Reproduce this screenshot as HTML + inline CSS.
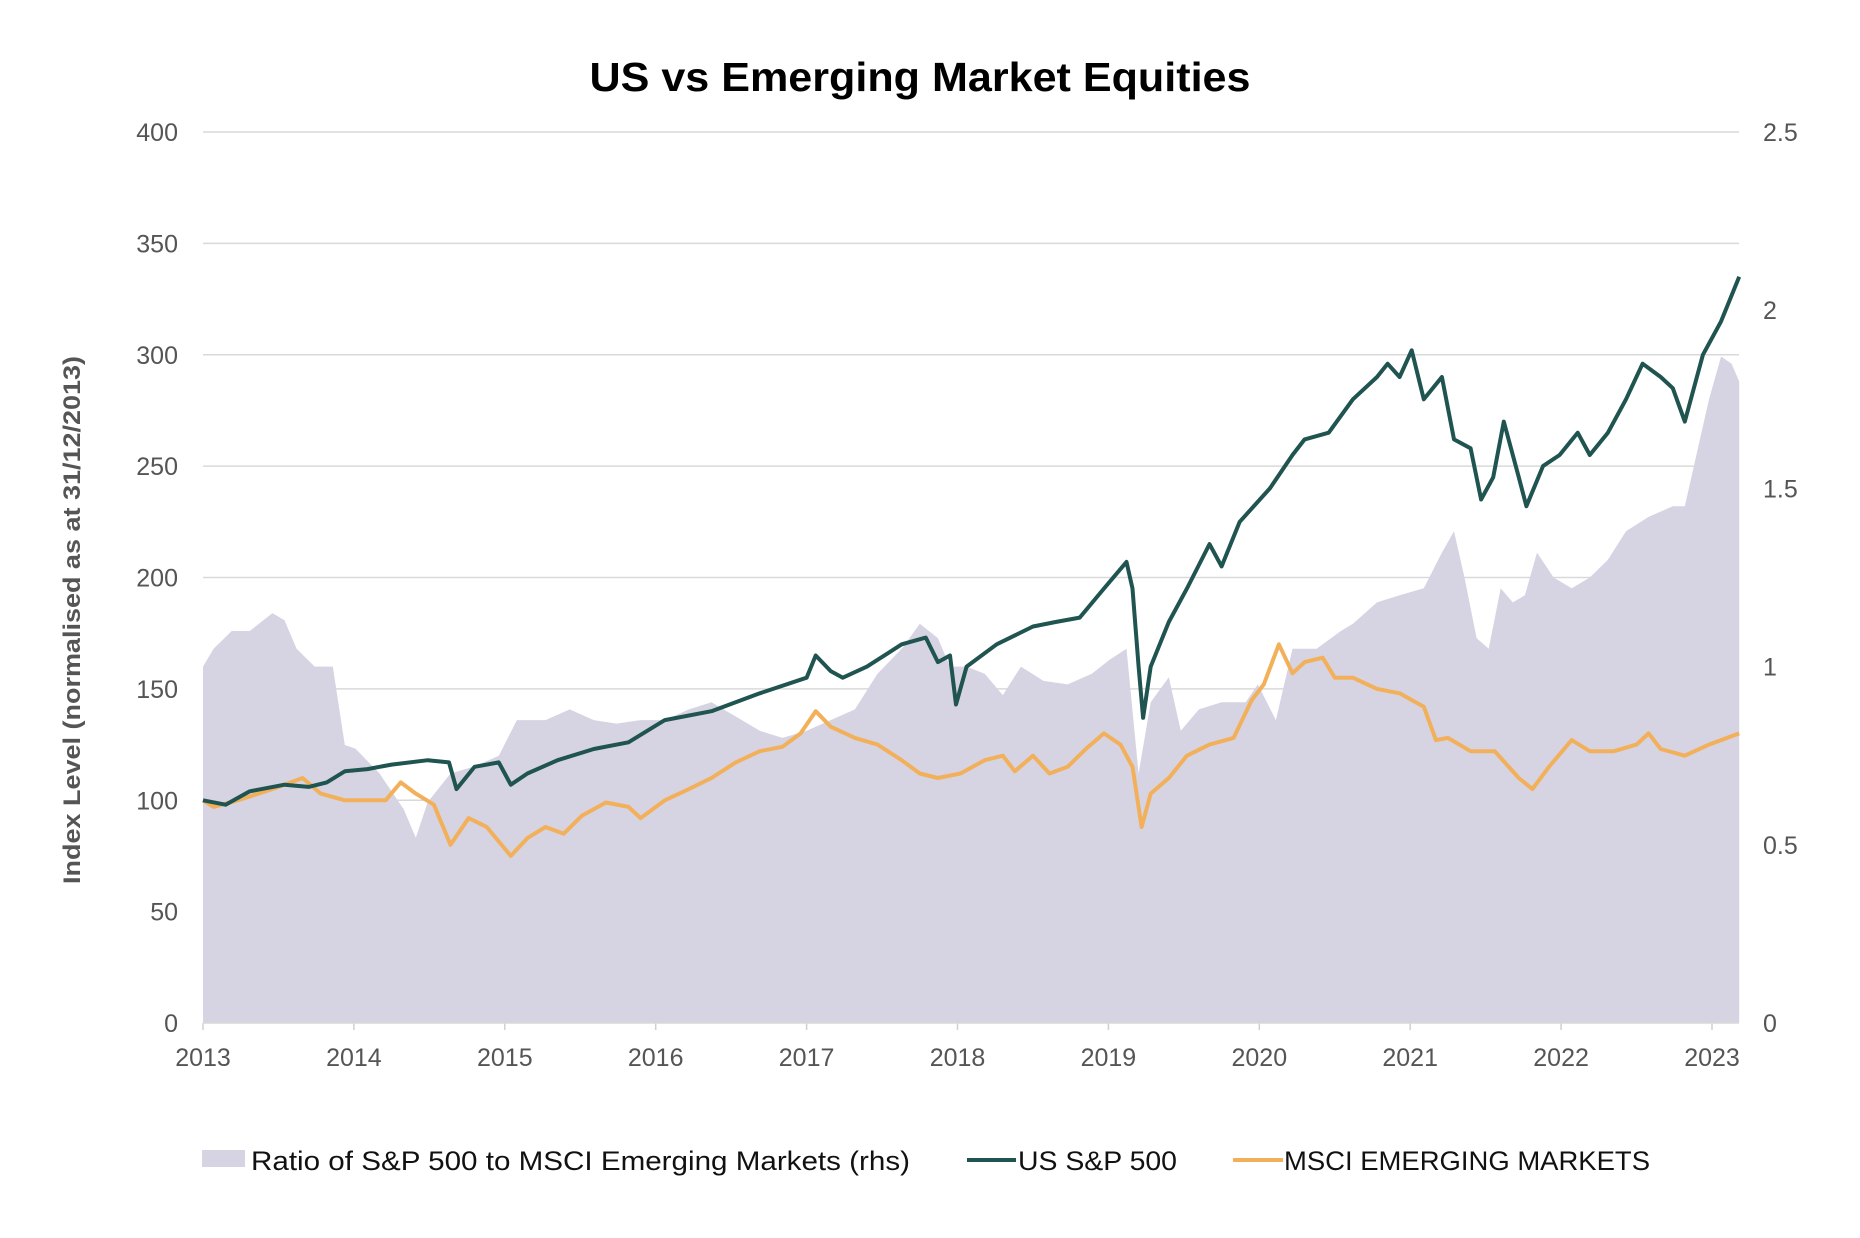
<!DOCTYPE html>
<html><head><meta charset="utf-8">
<style>
html,body{margin:0;padding:0;background:#fff;}
svg{display:block;font-family:"Liberation Sans",sans-serif;}
</style></head>
<body>
<svg id="chart" width="1860" height="1238" viewBox="0 0 1860 1238" xmlns="http://www.w3.org/2000/svg">
<text x="920" y="91" text-anchor="middle" font-size="41" font-weight="bold" fill="#000" textLength="661" lengthAdjust="spacingAndGlyphs">US vs Emerging Market Equities</text>
<text transform="translate(80,620) rotate(-90)" text-anchor="middle" font-size="24" font-weight="bold" fill="#555" textLength="528" lengthAdjust="spacingAndGlyphs">Index Level (normalised as at 31/12/2013)</text>
<g id="grid"></g><g id="area"></g><g id="lines"></g><g id="axes"></g>
<g>
<rect x="202" y="1150" width="43" height="17" fill="#d6d4e3"/>
<text x="251" y="1170" font-size="27" fill="#111" textLength="659" lengthAdjust="spacingAndGlyphs">Ratio of S&amp;P 500 to MSCI Emerging Markets (rhs)</text>
<line x1="967" y1="1160" x2="1016" y2="1160" stroke="#1f5450" stroke-width="4"/>
<text x="1018" y="1170" font-size="27" fill="#111" textLength="159" lengthAdjust="spacingAndGlyphs">US S&amp;P 500</text>
<line x1="1233" y1="1160" x2="1283" y2="1160" stroke="#f2b05a" stroke-width="4"/>
<text x="1284" y="1170" font-size="27" fill="#111" textLength="366" lengthAdjust="spacingAndGlyphs">MSCI EMERGING MARKETS</text>
</g>
</svg>
<script>
const spDates=[0,.15,.31,.54,.70,.82,.94,1.09,1.25,1.49,1.63,1.68,1.80,1.96,2.04,2.15,2.35,2.59,2.82,3.06,3.37,3.69,4.00,4.06,4.16,4.24,4.40,4.63,4.79,4.87,4.95,4.99,5.06,5.26,5.50,5.65,5.81,5.97,6.12,6.16,6.20,6.23,6.28,6.40,6.52,6.67,6.75,6.87,7.07,7.22,7.30,7.46,7.62,7.78,7.85,7.93,8.01,8.09,8.21,8.29,8.40,8.47,8.55,8.62,8.72,8.77,8.88,8.99,9.11,9.19,9.31,9.43,9.54,9.66,9.74,9.82,9.94,10.06,10.18];
const spValues=[100,98,104,107,106,108,113,114,116,118,117,105,115,117,107,112,118,123,126,136,140,148,155,165,158,155,160,170,173,162,165,143,160,170,178,180,182,195,207,195,160,137,160,180,195,215,205,225,240,255,262,265,280,290,296,290,302,280,290,262,258,235,245,270,245,232,250,255,265,255,265,280,296,290,285,270,300,315,335];
const emDates=[0,.07,.23,.46,.66,.78,.94,1.09,1.21,1.31,1.41,1.53,1.64,1.76,1.88,2.04,2.15,2.27,2.39,2.51,2.67,2.82,2.90,3.06,3.22,3.37,3.53,3.69,3.84,3.96,4.06,4.16,4.32,4.47,4.63,4.75,4.87,5.02,5.18,5.30,5.38,5.50,5.61,5.73,5.85,5.97,6.08,6.16,6.22,6.28,6.40,6.52,6.67,6.83,6.95,7.03,7.13,7.22,7.30,7.42,7.50,7.62,7.78,7.93,8.09,8.17,8.25,8.40,8.56,8.72,8.81,8.92,9.07,9.19,9.35,9.50,9.58,9.66,9.82,9.98,10.18];
const emValues=[100,97,100,105,110,103,100,100,100,108,103,98,80,92,88,75,83,88,85,93,99,97,92,100,105,110,117,122,124,130,140,133,128,125,118,112,110,112,118,120,113,120,112,115,123,130,125,115,88,103,110,120,125,128,145,152,170,157,162,164,155,155,150,148,142,127,128,122,122,110,105,115,127,122,122,125,130,123,120,125,130];
const ratioDates=[0,.07,.19,.31,.46,.54,.62,.74,.86,.94,1.01,1.17,1.33,1.41,1.49,1.64,1.80,1.96,2.08,2.27,2.43,2.59,2.74,2.90,3.06,3.22,3.37,3.53,3.69,3.84,4.00,4.16,4.32,4.47,4.63,4.75,4.87,4.95,5.06,5.18,5.30,5.42,5.57,5.73,5.89,6.01,6.12,6.20,6.28,6.40,6.48,6.60,6.75,6.91,6.99,7.11,7.22,7.38,7.54,7.62,7.78,7.93,8.09,8.21,8.29,8.36,8.44,8.52,8.60,8.68,8.76,8.84,8.95,9.07,9.19,9.31,9.43,9.58,9.74,9.82,9.90,9.98,10.06,10.13,10.18];
const ratioValues=[1.0,1.05,1.1,1.1,1.15,1.13,1.05,1.0,1.0,0.78,0.77,0.7,0.6,0.52,0.62,0.7,0.72,0.75,0.85,0.85,0.88,0.85,0.84,0.85,0.85,0.88,0.9,0.86,0.82,0.8,0.82,0.85,0.88,0.98,1.05,1.12,1.08,1.0,1.0,0.98,0.92,1.0,0.96,0.95,0.98,1.02,1.05,0.7,0.9,0.97,0.82,0.88,0.9,0.9,0.95,0.85,1.05,1.05,1.1,1.12,1.18,1.2,1.22,1.32,1.38,1.25,1.08,1.05,1.22,1.18,1.2,1.32,1.25,1.22,1.25,1.3,1.38,1.42,1.45,1.45,1.6,1.75,1.87,1.85,1.8];
const leftTicks=[0,50,100,150,200,250,300,350,400];
const rightTicks=["0","0.5","1","1.5","2","2.5"];
const yearTicks=[2013,2014,2015,2016,2017,2018,2019,2020,2021,2022,2023];

const NS="http://www.w3.org/2000/svg";
const X0=203,X1=1739,Y0=1023,Y1=132;
const T0=2013;
const xs=t=>X0+(t-T0)/(10.0)*(1712-X0);
const yl=v=>Y0-(v/400)*(Y0-Y1);
const yr=v=>Y0-(v/2.5)*(Y0-Y1);
function mk(tag,attrs,parent){const e=document.createElementNS(NS,tag);for(const k in attrs)e.setAttribute(k,attrs[k]);parent.appendChild(e);return e;}
const grid=document.getElementById('grid'),axes=document.getElementById('axes');
leftTicks.forEach(v=>{
  if(v>0){const g=mk('line',{x1:X0,x2:X1,y1:yl(v),y2:yl(v),stroke:'#d9d9d9','stroke-width':1.5},grid);
  
  }
  const t=mk('text',{x:178,y:yl(v)+9,'text-anchor':'end','font-size':25,fill:'#555'},axes);
  
  
  t.textContent=v;
});
rightTicks.forEach(s=>{
  const t=mk('text',{x:1763,y:yr(parseFloat(s))+9,'font-size':25,fill:'#555'},axes);
  
  
  t.textContent=s;
});
yearTicks.forEach(y=>{
  const l=mk('line',{x1:xs(y),x2:xs(y),y1:Y0,y2:Y0+7,stroke:'#d0d0d0','stroke-width':1.5},axes);
  
  
  const t=mk('text',{x:xs(y),y:Y0+43,'text-anchor':'middle','font-size':25,fill:'#555'},axes);
  
  
  t.textContent=y;
});
let d='M'+xs(T0+ratioDates[0])+','+Y0;
ratioDates.forEach((t,i)=>{d+=' L'+xs(T0+t).toFixed(1)+','+yr(ratioValues[i]).toFixed(1);});
d+=' L'+xs(T0+ratioDates[ratioDates.length-1]).toFixed(1)+','+Y0+' Z';
const a=mk('path',{d:d,fill:'#d6d4e3'},document.getElementById('area'));


const bl=mk('line',{x1:X0,x2:X1,y1:Y0,y2:Y0,stroke:'#d9d9d9','stroke-width':1.5},axes);


function line(dates,vals,color,name){
  const p=dates.map((t,i)=>(i?'L':'M')+xs(T0+t).toFixed(1)+','+yl(vals[i]).toFixed(1)).join(' ');
  const e=mk('path',{d:p,fill:'none',stroke:color,'stroke-width':4,'stroke-linejoin':'round'},document.getElementById('lines'));
  
  
}
line(emDates,emValues,'#f2b05a','msci-em-line');
line(spDates,spValues,'#1f5450','sp500-line');
</script>
</body></html>
